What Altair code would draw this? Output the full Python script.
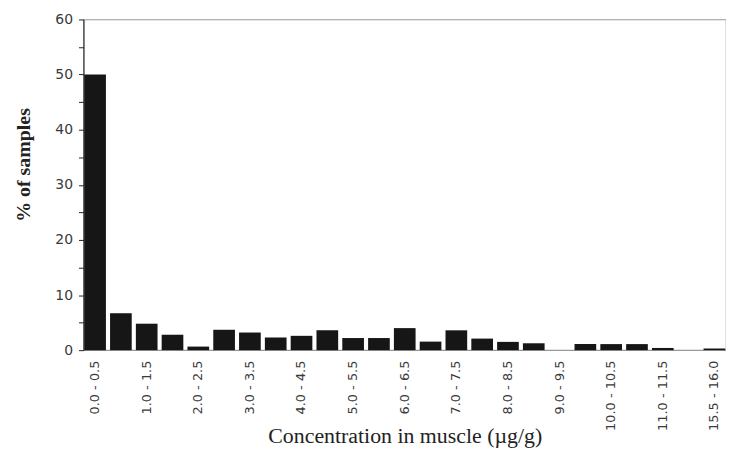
import altair as alt
import pandas as pd

categories = ["0.0 - 0.5", "0.5 - 1.0", "1.0 - 1.5", "1.5 - 2.0", "2.0 - 2.5",
              "2.5 - 3.0", "3.0 - 3.5", "3.5 - 4.0", "4.0 - 4.5", "4.5 - 5.0",
              "5.0 - 5.5", "5.5 - 6.0", "6.0 - 6.5", "6.5 - 7.0", "7.0 - 7.5",
              "7.5 - 8.0", "8.0 - 8.5", "8.5 - 9.0", "9.0 - 9.5", "9.5 - 10.0",
              "10.0 - 10.5", "10.5 - 11.0", "11.0 - 11.5", "11.5 - 15.5", "15.5 - 16.0"]
values = [50.0, 6.7, 4.8, 2.8, 0.65, 3.7, 3.2, 2.3, 2.6, 3.6,
          2.2, 2.2, 4.0, 1.55, 3.6, 2.1, 1.5, 1.25, 0.0, 1.1,
          1.1, 1.1, 0.4, 0.0, 0.3]
shown_labels = categories[::2]
y_ticks = [0, 5, 10, 15, 20, 25, 30, 35, 40, 45, 50, 55, 60]

df = pd.DataFrame({"cat": categories, "pct": values})

chart = alt.Chart(df).mark_bar(color="#161616").encode(
    x=alt.X("cat:N", sort=categories,
            scale=alt.Scale(paddingInner=0.16, paddingOuter=0.03),
            axis=alt.Axis(title="Concentration in muscle (µg/g)", values=shown_labels,
                          labelAngle=-90, labelFont="DejaVu Sans", labelFontSize=13,
                          labelColor="#3a3a3a", labelPadding=10, ticks=False, domain=False,
                          titleFont="Liberation Serif", titleFontSize=22, titleFontWeight="normal",
                          titleColor="#222222", titleY=76, titleBaseline="top")),
    y=alt.Y("pct:Q", scale=alt.Scale(domain=[0, 60], nice=False),
            axis=alt.Axis(title="% of samples", values=y_ticks,
                          labelExpr="datum.value % 10 == 0 ? datum.value : ''",
                          labelFont="DejaVu Sans", labelFontSize=14, labelColor="#3a3a3a",
                          labelPadding=6, tickSize=5, tickColor="#222222", domainColor="#222222",
                          grid=False, titleFont="Liberation Serif", titleFontSize=20,
                          titleFontWeight="bold", titleColor="#222222", titleX=-60, titleY=146,
                          titleBaseline="middle")),
).properties(
    width=647, height=333,
    autosize=alt.AutoSizeParams(type="none"),
    padding={"left": 76, "top": 10, "right": 0, "bottom": 100},
).configure_view(stroke="#999999", strokeWidth=1.2)

chart.save("out.html", embed_options={"renderer": "svg", "actions": False})
